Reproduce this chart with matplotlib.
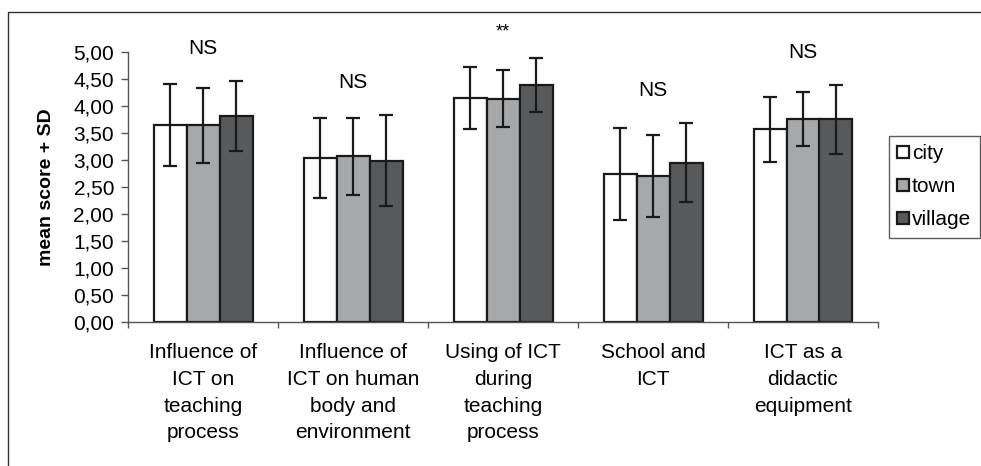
import matplotlib.pyplot as plt
import numpy as np
from matplotlib.lines import Line2D

categories = ["Influence of\nICT on\nteaching\nprocess",
              "Influence of\nICT on human\nbody and\nenvironment",
              "Using of ICT\nduring\nteaching\nprocess",
              "School and\nICT",
              "ICT as a\ndidactic\nequipment"]
groups = ["city", "town", "village"]
city_mean = [3.65, 3.03, 4.15, 2.74, 3.57]
city_sd = [0.76, 0.74, 0.57, 0.85, 0.60]
town_mean = [3.64, 3.07, 4.13, 2.71, 3.75]
town_sd = [0.69, 0.71, 0.53, 0.76, 0.50]
village_mean = [3.81, 2.99, 4.39, 2.95, 3.75]
village_sd = [0.64, 0.84, 0.50, 0.73, 0.64]
signif = ["NS", "NS", "**", "NS", "NS"]
yticks = np.arange(0, 5.01, 0.5)

colors = ["#ffffff", "#a7a8aa", "#58595b"]

plt.rcParams['font.family'] = ['Liberation Sans', 'DejaVu Sans']

W, H = 981, 466
fig = plt.figure(figsize=(W / 100, H / 100), dpi=100)
# outer frame of the figure (right and bottom edges fall outside the picture)
fig.lines.append(Line2D([7.5 / W, 7.5 / W, 1.05], [-0.05, 1 - 12 / H, 1 - 12 / H],
                        transform=fig.transFigure, color="#333333", linewidth=1.0))

ax = fig.add_axes([128 / W, (H - 322.4) / H, 750 / W, 270.7 / H])
x = np.arange(len(categories))
width = 0.22
means = [city_mean, town_mean, village_mean]
sds = [city_sd, town_sd, village_sd]
for k, (g, m, s) in enumerate(zip(groups, means, sds)):
    ax.bar(x + (k - 1) * width, m, width, color=colors[k], edgecolor="#1a1a1a",
           linewidth=1.6, label=g, zorder=2)
    ax.errorbar(x + (k - 1) * width, m, yerr=s, fmt="none", ecolor="#1a1a1a",
                elinewidth=1.6, capsize=4.7, capthick=1.6, zorder=3)

tops = np.max(np.array(means) + np.array(sds), axis=0)
for i, lab in enumerate(signif):
    if lab == "**":
        ax.text(x[i], tops[i] + 0.47, lab, ha="center", va="center", fontsize=13)
    else:
        ax.text(x[i], tops[i] + 0.6, lab, ha="center", va="center", fontsize=15)

ax.set_xlim(-0.5, len(categories) - 0.5)
ax.set_ylim(0, 5)
ax.set_yticks(yticks)
ax.set_yticklabels([f"{v:.2f}".replace(".", ",") for v in yticks], fontsize=15)
ax.set_xticks(np.arange(len(categories) + 1) - 0.5)
ax.set_xticklabels([])
ax.tick_params(axis="y", length=5, width=1, color="#555555", pad=5)
ax.tick_params(axis="x", length=4.5, width=1, color="#555555")
for i, lab in enumerate(categories):
    ax.text(x[i], -0.38, lab, ha="center", va="top", fontsize=15,
            linespacing=1.52)
for sp in ["top", "right"]:
    ax.spines[sp].set_visible(False)
for sp in ["left", "bottom"]:
    ax.spines[sp].set_color("#555555")
    ax.spines[sp].set_linewidth(1)
ax.set_ylabel("mean score + SD", fontsize=14, fontweight="bold", labelpad=13)

fig.legend(loc="upper left", bbox_to_anchor=(889 / W, 1 - 136 / H),
           bbox_transform=fig.transFigure, fontsize=15, frameon=True,
           fancybox=False, edgecolor="#333333", handlelength=0.55,
           handleheight=0.55, handletextpad=0.15, labelspacing=0.67,
           borderpad=0.4, borderaxespad=0)

fig.savefig("out.png", dpi=100)
